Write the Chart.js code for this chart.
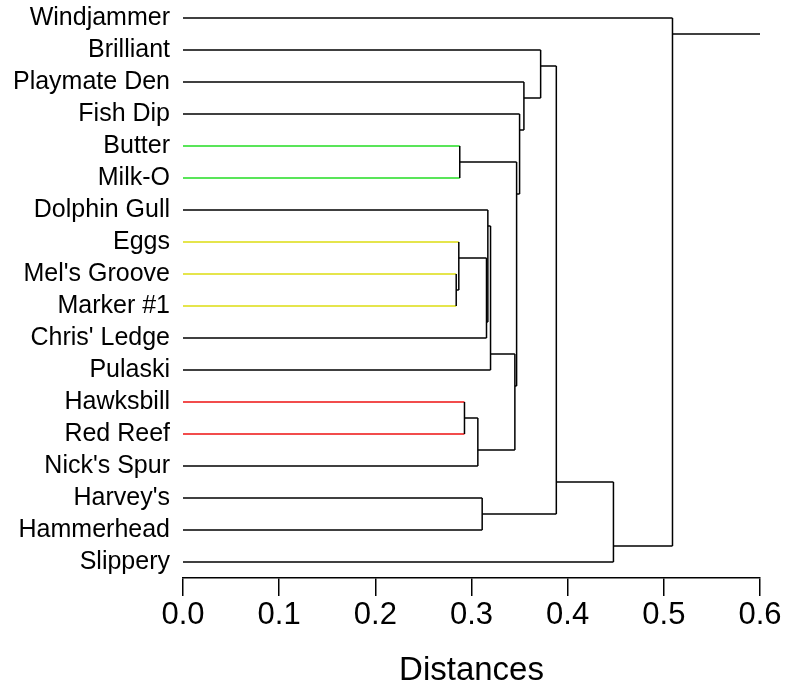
<!DOCTYPE html>
<html>
<head>
<meta charset="utf-8">
<script src="https://cdn.jsdelivr.net/npm/chart.js@4/dist/chart.umd.min.js"></script>
<style>
  html, body { margin: 0; padding: 0; background: #ffffff; }
  #wrap { width: 786px; height: 691px; }
</style>
</head>
<body>
<div id="wrap"><canvas id="c" width="786" height="691"></canvas></div>
<script>
// ---- data (leaf order = display order, top to bottom) ----
const leaves = ["Windjammer", "Brilliant", "Playmate Den", "Fish Dip", "Butter", "Milk-O",
  "Dolphin Gull", "Eggs", "Mel's Groove", "Marker #1", "Chris' Ledge", "Pulaski",
  "Hawksbill", "Red Reef", "Nick's Spur", "Harvey's", "Hammerhead", "Slippery"];
const leafGroups = [null, null, null, null, "green", "green", null, "yellow", "yellow", "yellow",
  null, null, "red", "red", null, null, null, null];
// merges: node 18 + k joins mergeLeft[k] and mergeRight[k] at distance mergeHeight[k]
const mergeLeft   = [8, 7, 4, 12, 21, 15, 19, 6, 25, 26, 20, 3, 2, 1, 31, 32, 0];
const mergeRight  = [9, 18, 5, 13, 14, 16, 10, 24, 11, 22, 27, 28, 29, 30, 23, 17, 33];
const mergeHeight = [0.2841, 0.2868, 0.2878, 0.2927, 0.3066, 0.3111, 0.3156, 0.3170, 0.3198,
  0.3451, 0.3469, 0.3500, 0.3545, 0.3719, 0.3882, 0.4476, 0.5090];
const xTicks = [0, 0.1, 0.2, 0.3, 0.4, 0.5, 0.6];
const xTitle = "Distances";

// ---- styles ----
const groupColors = { green: "#22dd22", yellow: "#dddd11", red: "#ee1111" };
const lineColor = "#000000";
const lineW = 1.5;
const FONT = "'Liberation Sans', Arial, Helvetica, sans-serif";

// ---- build tree geometry from the data ----
const n = leaves.length;
const nodeY = [], nodeH = [], lastRow = [], parentH = [];
for (let i = 0; i < n; i++) { nodeY[i] = i; nodeH[i] = 0; lastRow[i] = i; }
mergeLeft.forEach((L, k) => {
  const id = n + k, R = mergeRight[k];
  nodeH[id] = mergeHeight[k];
  lastRow[id] = lastRow[R];
  nodeY[id] = lastRow[L] + 0.5;
  parentH[L] = mergeHeight[k];
  parentH[R] = mergeHeight[k];
});
const rootId = n + mergeLeft.length - 1;
parentH[rootId] = xTicks[xTicks.length - 1];

function seg(p1, p2, color) {
  return {
    type: "line", data: [p1, p2], borderColor: color, backgroundColor: color,
    borderWidth: lineW, pointRadius: 0, fill: false, tension: 0, borderCapStyle: "butt"
  };
}
const verticals = [], horizontals = [];
mergeLeft.forEach((L, k) => {
  const R = mergeRight[k];
  verticals.push(seg({ x: mergeHeight[k], y: nodeY[L] }, { x: mergeHeight[k], y: nodeY[R] }, lineColor));
});
for (let id = 0; id <= rootId; id++) {
  const g = id < n ? leafGroups[id] : null;
  horizontals.push(seg({ x: nodeH[id], y: nodeY[id] }, { x: parentH[id], y: nodeY[id] },
    g ? groupColors[g] : lineColor));
}

new Chart(document.getElementById("c"), {
  type: "scatter",
  data: { datasets: verticals.concat(horizontals) },
  options: {
    responsive: false,
    animation: false,
    showLine: true,
    layout: { padding: { top: 2, right: 26, bottom: 0, left: 0 } },
    plugins: { legend: { display: false }, tooltip: { enabled: false } },
    scales: {
      x: {
        type: "linear", position: "bottom",
        min: xTicks[0], max: xTicks[xTicks.length - 1],
        afterBuildTicks: (s) => { s.ticks = xTicks.map(v => ({ value: v })); },
        afterFit: (s) => { s.height = 113; s.paddingLeft = 0; s.paddingRight = 0; },
        ticks: {
          callback: (v) => Number(v).toFixed(1),
          font: { family: FONT, size: 31 }, color: "#000", padding: 1, maxRotation: 0
        },
        grid: { display: true, drawOnChartArea: false, drawTicks: true, tickLength: 18,
          color: "#000", lineWidth: 1.5 },
        border: { display: true, color: "#000", width: 1.5 },
        title: { display: true, text: xTitle, font: { family: FONT, size: 33 }, color: "#000",
          padding: { top: 4, bottom: 0 } }
      },
      y: {
        type: "linear", reverse: true, min: -0.5, max: n - 0.5,
        afterBuildTicks: (s) => { s.ticks = leaves.map((_, i) => ({ value: i })); },
        afterFit: (s) => { s.width = 183; s.paddingTop = 0; s.paddingBottom = 0; },
        ticks: {
          callback: (v) => leaves[v] !== undefined ? leaves[v] : "",
          font: { family: FONT, size: 25 }, color: "#000", padding: 13, autoSkip: false
        },
        grid: { display: false, drawTicks: false },
        border: { display: false }
      }
    }
  }
});
</script>
</body>
</html>
